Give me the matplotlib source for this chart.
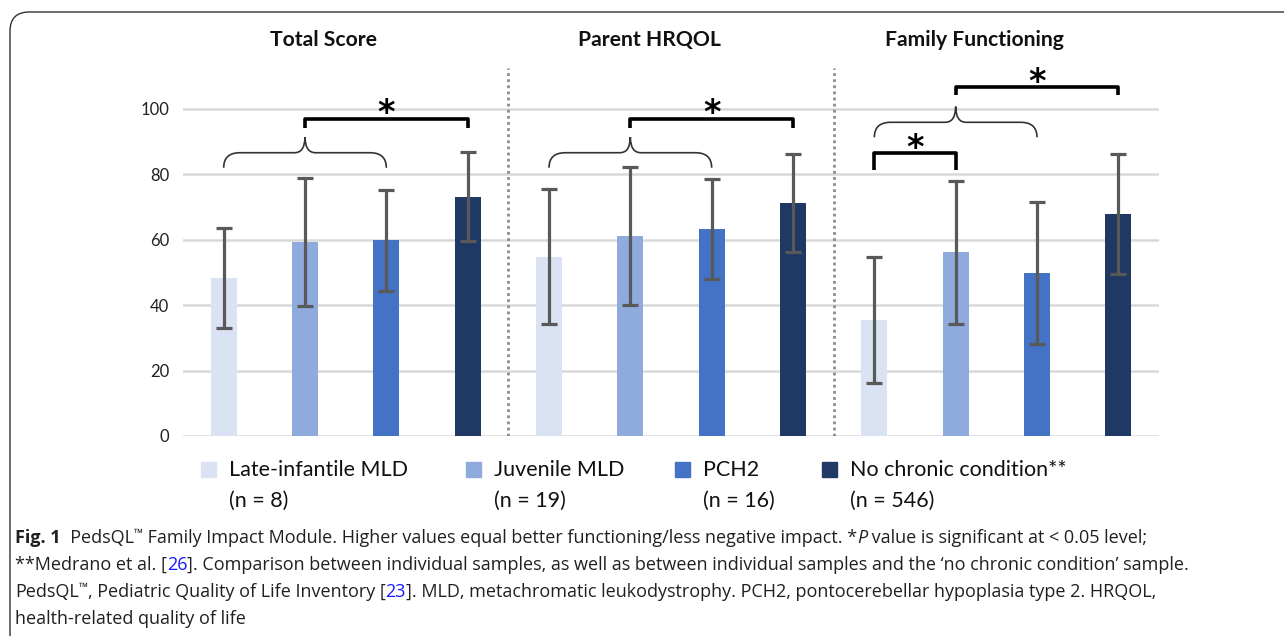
import matplotlib
matplotlib.use("Agg")
import matplotlib.pyplot as plt
from matplotlib.patches import Rectangle, FancyBboxPatch
from matplotlib.path import Path
from matplotlib.patches import PathPatch
import numpy as np

# ---- data ----
panels = ["Total Score", "Parent HRQOL", "Family Functioning"]
groups = ["Late-infantile MLD", "Juvenile MLD", "PCH2", "No chronic condition**"]
group_n = ["(n = 8)", "(n = 19)", "(n = 16)", "(n = 546)"]
colors = ["#dae3f3", "#8faadc", "#4472c4", "#203864"]

total_mean = [48.2, 59.2, 59.8, 73.2]
total_sd = [15.3, 19.6, 15.5, 13.6]
parent_mean = [54.8, 61.1, 63.4, 71.2]
parent_sd = [20.7, 21.0, 15.3, 14.9]
family_mean = [35.4, 56.1, 49.9, 67.8]
family_sd = [19.2, 22.0, 21.7, 18.4]

# curly braces: (panel, first bar, last bar, end height, middle height, tip height)
braces = [(0, 0, 2, 82.0, 86.6, 91.4), (1, 0, 2, 82.0, 86.6, 91.4), (2, 0, 2, 91.3, 95.9, 100.7)]
# significance brackets: (panel, from bar, to bar, top, leg bottom)
brackets = [(0, 1, 3, 96.9, 94.2), (1, 1, 3, 96.9, 94.2), (2, 1, 3, 106.6, 104.3), (2, 0, 1, 86.4, 81.3)]

W, H = 1284, 636
fig = plt.figure(figsize=(W / 100, H / 100), dpi=100)
plt.rcParams["font.family"] = ["Lato", "DejaVu Sans"]


def fx(px):
    return px / W


def fy(py):
    return 1 - py / H


ax = fig.add_axes([fx(183), fy(436), fx(1159) - fx(183), fy(68) - fy(436)])

means = np.array(total_mean + parent_mean + family_mean)
sds = np.array(total_sd + parent_sd + family_sd)
x = np.arange(12)
bar_colors = colors * 3

ax.bar(x, means, width=0.32, color=bar_colors, zorder=2)
ax.errorbar(x, means, yerr=sds, fmt="none", ecolor="#595959", elinewidth=2.3,
            capsize=6, capthick=2.3, zorder=3)

ax.set_xlim(-0.5, 11.5)
ax.set_ylim(0, 112.5)
ax.set_yticks([0, 20, 40, 60, 80, 100])
ax.tick_params(axis="y", length=0, pad=10, labelsize=12, labelcolor="#222222")
ax.set_xticks([])
for s in ax.spines.values():
    s.set_visible(False)
ax.yaxis.grid(True, color="#d9d9d9", lw=1.8, zorder=0)
ax.set_axisbelow(True)

for d in [3.5, 7.5]:
    ax.axvline(d, color="#8c8c8c", lw=2, ls=(0, (1, 1.2)), zorder=1)

for i, p in enumerate(panels):
    ax.text(4 * i + 1.5 - 0.27, 1.076, p, transform=ax.get_xaxis_transform(),
            ha="center", va="center", fontsize=15.2, fontweight="bold", color="#111111")


def brace_path(x0, x1, yb, yh, yt, dx=0.2, dm=0.13):
    xm = (x0 + x1) / 2
    verts = [(x0, yb), (x0, yh), (x0 + dx, yh),
             (xm - dm, yh),
             (xm, yh), (xm, yt),
             (xm, yh), (xm + dm, yh),
             (x1 - dx, yh),
             (x1, yh), (x1, yb)]
    codes = [Path.MOVETO, Path.CURVE3, Path.CURVE3, Path.LINETO, Path.CURVE3, Path.CURVE3,
             Path.CURVE3, Path.CURVE3, Path.LINETO, Path.CURVE3, Path.CURVE3]
    return Path(verts, codes)


for p, a, b, yb, yh, yt in braces:
    ax.add_patch(PathPatch(brace_path(4 * p + a, 4 * p + b, yb, yh, yt),
                           fill=False, lw=1.2, edgecolor="#333333", zorder=4))

for p, a, b, top, bot in brackets:
    xa, xb = 4 * p + a, 4 * p + b
    ax.plot([xa, xa, xb, xb], [bot, top, top, bot], color="black", lw=2.6,
            solid_joinstyle="round", solid_capstyle="butt", zorder=4)
    # asterisk glyph sits ~0.56 em above its baseline
    ax.text((xa + xb) / 2, top - 1.3, "*", ha="center", va="baseline",
            fontsize=24, fontweight="bold", color="black", family="DejaVu Sans")

# ---- legend drawn by hand ----
leg_x = [201, 466, 675, 822]
for lx, c, g, n in zip(leg_x, colors, groups, group_n):
    fig.add_artist(Rectangle((fx(lx), fy(477)), 15 / W, 15 / H, color=c,
                             transform=fig.transFigure))
    fig.text(fx(lx + 28), fy(470), g, fontsize=15.5, va="center", color="#111111")
    fig.text(fx(lx + 28), fy(501), n, fontsize=15.5, va="center", color="#111111")

# ---- caption ----
CAP = 13.0
cap_font = ["Open Sans", "DejaVu Sans"]
renderer = fig.canvas.get_renderer()


def caption_line(py, segs):
    px = 15
    for txt, style in segs:
        kw = dict(fontsize=CAP, color="#231f20", family=cap_font)
        yoff = 0
        if style == "bold":
            kw["fontweight"] = "bold"
        elif style == "italic":
            kw["style"] = "italic"
        elif style == "link":
            kw["color"] = "#1a1aff"
        elif style == "sup":
            kw["fontsize"] = CAP * 0.65
            yoff = 6
        t = fig.text(fx(px), fy(py - yoff), txt, va="baseline", **kw)
        px += t.get_window_extent(renderer).width


caption_line(543, [("Fig. 1", "bold"), ("  PedsQL", ""), ("™", "sup"),
                   (" Family Impact Module. Higher values equal better functioning/less negative impact. *", ""),
                   ("P", "italic"), (" value is significant at < 0.05 level;", "")])
caption_line(570, [("**Medrano et al. [", ""), ("26", "link"),
                   ("]. Comparison between individual samples, as well as between individual samples and the ‘no chronic condition’ sample.", "")])
caption_line(597, [("PedsQL", ""), ("™", "sup"), (", Pediatric Quality of Life Inventory [", ""), ("23", "link"),
                   ("]. MLD, metachromatic leukodystrophy. PCH2, pontocerebellar hypoplasia type 2. HRQOL,", "")])
caption_line(624, [("health-related quality of life", "")])

# rounded frame around the figure
fig.add_artist(FancyBboxPatch((fx(10), fy(660)), 1.2, fy(12) - fy(660),
                              boxstyle="round,pad=0,rounding_size=0.015",
                              fill=False, lw=1, edgecolor="#333333",
                              transform=fig.transFigure, mutation_aspect=W / H))

fig.savefig("out.png", dpi=100)
